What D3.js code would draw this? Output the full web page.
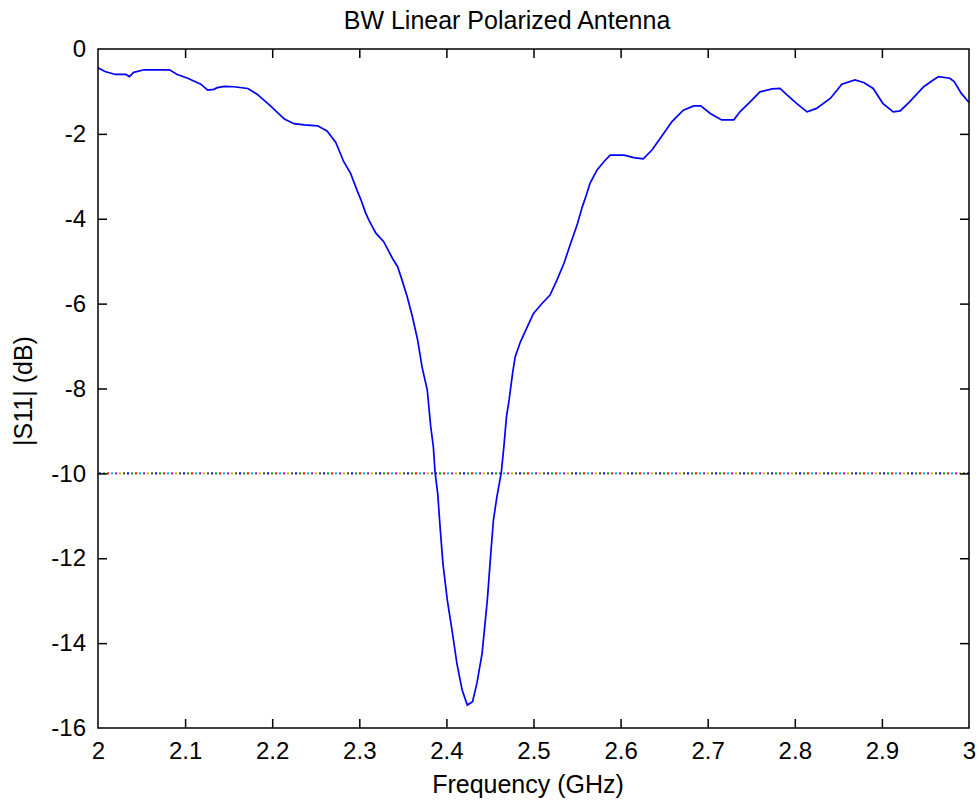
<!DOCTYPE html>
<html>
<head>
<meta charset="utf-8">
<script src="https://cdn.jsdelivr.net/npm/d3@7"></script>
<style>
html,body{margin:0;padding:0;background:#fff;}
svg{display:block;}
text{font-family:"Liberation Sans",Arial,Helvetica,sans-serif;fill:#000;}
</style>
</head>
<body>
<svg id="chart" width="979" height="805"></svg>
<script>
const title = "BW Linear Polarized Antenna";
const xLabel = "Frequency (GHz)";
const yLabel = "|S11| (dB)";
const xTicks = [2, 2.1, 2.2, 2.3, 2.4, 2.5, 2.6, 2.7, 2.8, 2.9, 3];
const yTicks = [0, -2, -4, -6, -8, -10, -12, -14, -16];
const threshold = -10;
const dotColors = ["#0000ff","#00a000","#ff0000","#00c0c0","#c000c0","#c0c000","#404040"];

const freq = [2.000,2.008,2.020,2.032,2.036,2.041,2.053,2.082,2.091,2.103,2.118,2.126,2.133,2.137,2.145,2.156,2.172,2.183,2.198,2.214,2.225,2.237,2.252,2.263,2.273,2.282,2.290,2.298,2.302,2.307,2.311,2.319,2.328,2.338,2.344,2.349,2.355,2.361,2.367,2.372,2.378,2.382,2.385,2.387,2.390,2.393,2.396,2.401,2.407,2.412,2.418,2.424,2.430,2.435,2.441,2.447,2.451,2.454,2.458,2.463,2.466,2.469,2.472,2.476,2.479,2.485,2.493,2.500,2.510,2.519,2.527,2.535,2.542,2.550,2.556,2.560,2.565,2.573,2.581,2.588,2.604,2.615,2.626,2.636,2.648,2.659,2.672,2.684,2.692,2.703,2.716,2.730,2.737,2.749,2.760,2.774,2.783,2.791,2.802,2.814,2.825,2.841,2.854,2.869,2.879,2.890,2.901,2.913,2.921,2.932,2.948,2.959,2.965,2.978,2.983,2.991,3.000];
const s11 = [-0.44,-0.53,-0.60,-0.60,-0.65,-0.55,-0.49,-0.49,-0.60,-0.69,-0.83,-0.97,-0.95,-0.91,-0.88,-0.89,-0.93,-1.07,-1.34,-1.65,-1.76,-1.79,-1.81,-1.93,-2.20,-2.65,-2.93,-3.36,-3.56,-3.85,-4.03,-4.34,-4.54,-4.93,-5.13,-5.44,-5.84,-6.31,-6.86,-7.49,-8.03,-8.90,-9.37,-9.98,-10.47,-11.33,-12.12,-12.98,-13.77,-14.47,-15.10,-15.46,-15.38,-14.95,-14.24,-12.98,-11.88,-11.10,-10.55,-9.98,-9.37,-8.66,-8.27,-7.64,-7.25,-6.90,-6.54,-6.23,-5.99,-5.80,-5.44,-5.05,-4.62,-4.15,-3.72,-3.48,-3.16,-2.85,-2.65,-2.50,-2.50,-2.56,-2.59,-2.38,-2.03,-1.71,-1.44,-1.34,-1.34,-1.52,-1.67,-1.67,-1.48,-1.24,-1.01,-0.94,-0.93,-1.08,-1.28,-1.48,-1.40,-1.16,-0.83,-0.73,-0.79,-0.93,-1.28,-1.48,-1.46,-1.24,-0.89,-0.73,-0.65,-0.69,-0.77,-1.04,-1.26];

const L = 98, R = 969, T = 49, B = 728;
const svg = d3.select("#chart");
const x = d3.scaleLinear().domain([2, 3]).range([L, R]);
const y = d3.scaleLinear().domain([-16, 0]).range([B, T]);
const tickLen = 9, fs = 24, fsLab = 25;
const fmt = d => String(d);

// threshold dotted line with cycling colours
const step = 4;
const dots = d3.range(L + 2, R, step);
svg.append("g").selectAll("rect").data(dots).join("rect")
  .attr("x", d => d - 1).attr("y", y(threshold) - 1)
  .attr("width", 2).attr("height", 2)
  .attr("fill", (d, i) => dotColors[i % dotColors.length]);

// curve
const line = d3.line().x((d, i) => x(freq[i])).y(d => y(d));
svg.append("path").datum(s11)
  .attr("d", line).attr("fill", "none")
  .attr("stroke", "#0000ff").attr("stroke-width", 1.7);

// axes (MATLAB-style box with inward ticks)
const gx = svg.append("g").attr("transform", `translate(0,${B})`)
  .call(d3.axisBottom(x).tickValues(xTicks).tickSize(-tickLen).tickSizeOuter(0).tickPadding(14).tickFormat(fmt));
const gxt = svg.append("g").attr("transform", `translate(0,${T})`)
  .call(d3.axisTop(x).tickValues(xTicks).tickSize(-tickLen).tickSizeOuter(0).tickFormat(""));
const gy = svg.append("g").attr("transform", `translate(${L},0)`)
  .call(d3.axisLeft(y).tickValues(yTicks).tickSize(-tickLen).tickSizeOuter(0).tickPadding(12).tickFormat(fmt));
const gyr = svg.append("g").attr("transform", `translate(${R},0)`)
  .call(d3.axisRight(y).tickValues(yTicks).tickSize(-tickLen).tickSizeOuter(0).tickFormat(""));

[gx, gxt, gy, gyr].forEach(g => {
  g.select(".domain").remove();
  g.selectAll(".tick line").attr("stroke", "#000").attr("stroke-width", 1.5);
  g.selectAll("text").attr("font-size", fs).attr("font-family", '"Liberation Sans",Arial,sans-serif').attr("fill", "#000");
});
gx.selectAll(".tick").filter(d => d === 2 || d === 3).select("line").remove();
gxt.selectAll(".tick").filter(d => d === 2 || d === 3).select("line").remove();
gy.selectAll(".tick").filter(d => d === 0 || d === -16).select("line").remove();
gyr.selectAll(".tick").filter(d => d === 0 || d === -16).select("line").remove();

svg.append("rect").attr("x", L).attr("y", T).attr("width", R - L).attr("height", B - T)
  .attr("fill", "none").attr("stroke", "#000").attr("stroke-width", 1.5);

// titles
svg.append("text").attr("x", 507).attr("y", 29).attr("text-anchor", "middle")
  .attr("font-size", fsLab).text(title);
svg.append("text").attr("x", 528).attr("y", 793).attr("text-anchor", "middle")
  .attr("font-size", fsLab).text(xLabel);
svg.append("text").attr("transform", "translate(32,391) rotate(-90)").attr("text-anchor", "middle")
  .attr("font-size", fsLab).text(yLabel);
</script>
</body>
</html>
